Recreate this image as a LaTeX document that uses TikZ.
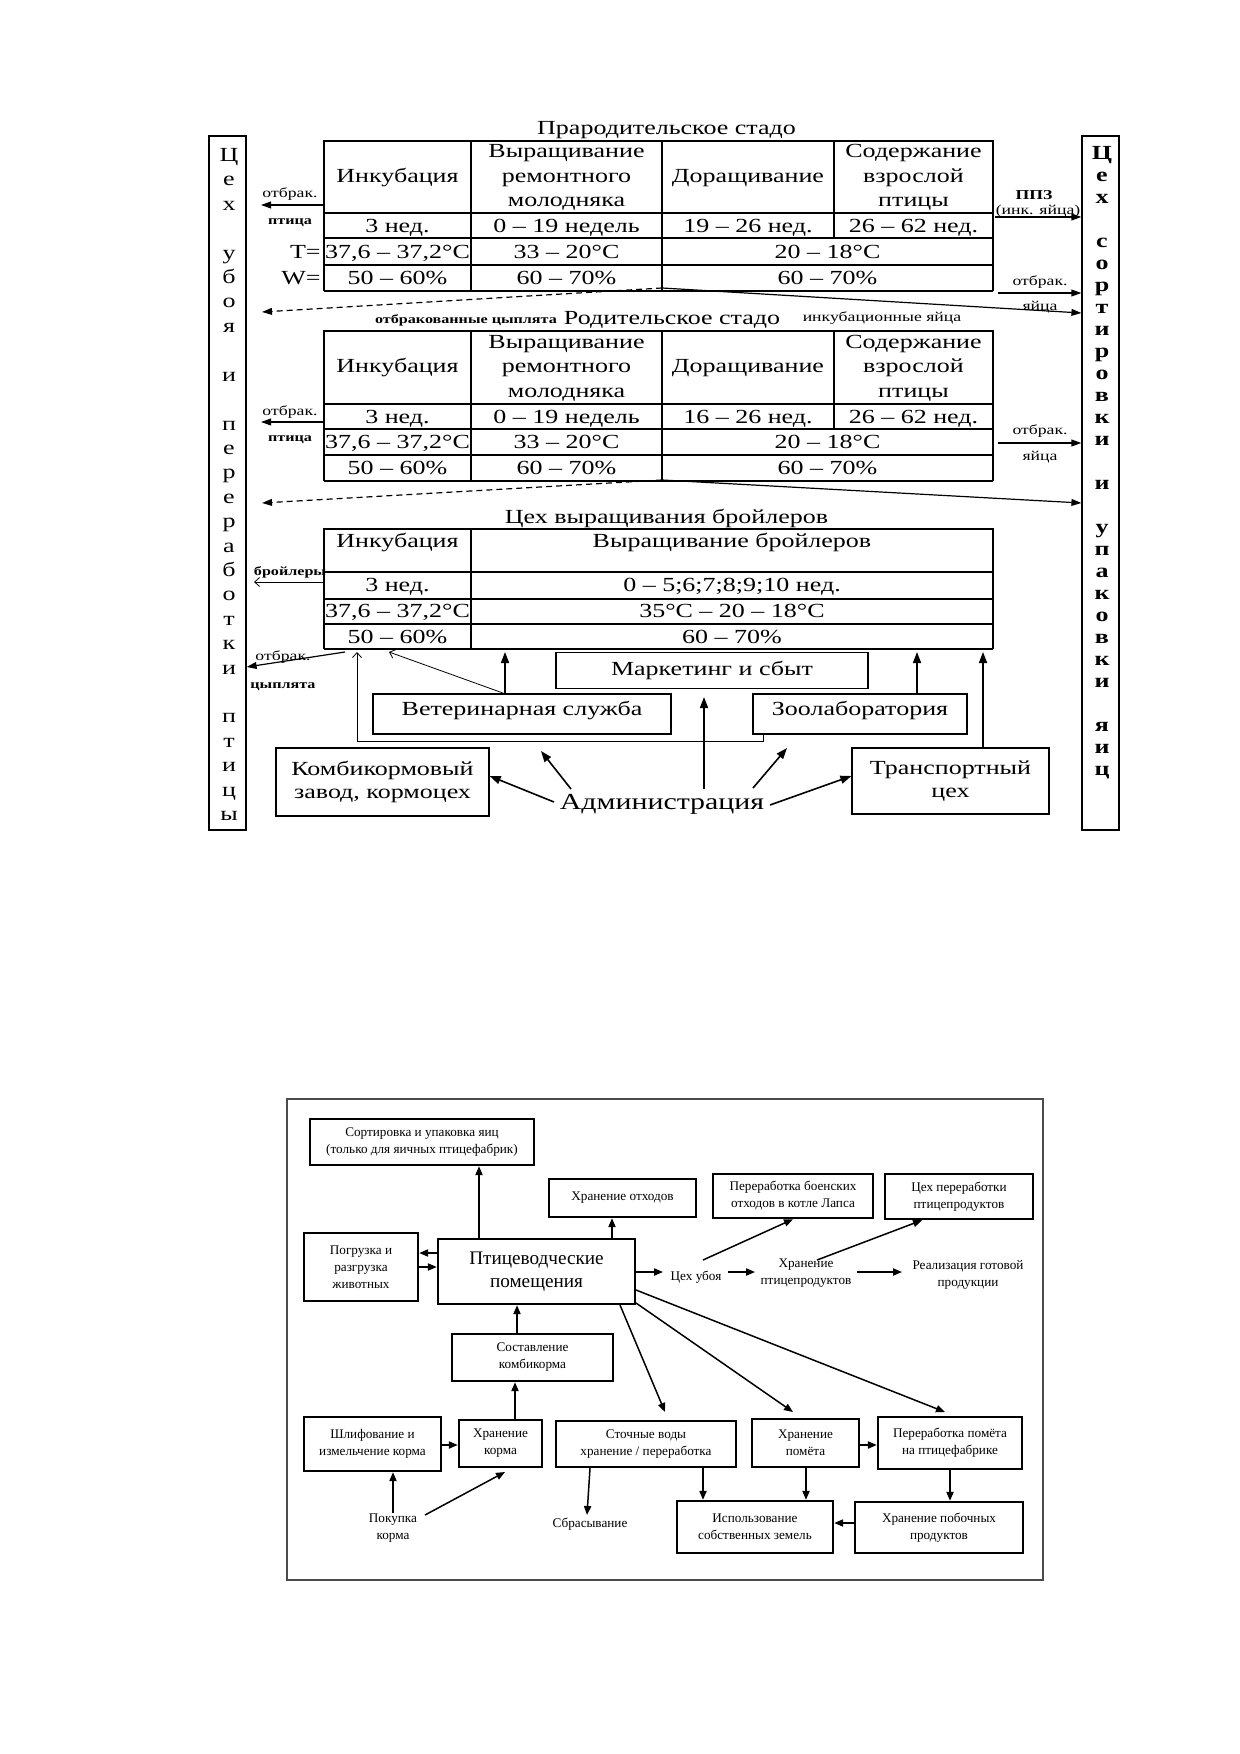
\documentclass[tikz,border=0pt]{standalone}
\usepackage{fontspec}
\setmainfont{Liberation Serif}
\newfontfamily\wf[FakeStretch=1.3]{Liberation Serif}
\usetikzlibrary{arrows.meta}
\tikzset{
  tl/.style={line width=0.6pt},
  tk/.style={line width=1.1pt},
  wt/.style={inner sep=0pt, text height=0.66em, text depth=0pt, font=\wf\fontsize{10}{12}\selectfont},
  wtb/.style={wt, font=\wf\bfseries\fontsize{10}{12}\selectfont},
  ws/.style={inner sep=0pt, text height=0.66em, text depth=0pt, font=\wf\fontsize{6.8}{8}\selectfont},
  wsb/.style={ws, font=\wf\bfseries\fontsize{6.8}{8}\selectfont},
  wsbs/.style={ws, font=\wf\bfseries\fontsize{6.2}{8}\selectfont},
  arr/.style={line width=0.6pt, -{Triangle[length=5pt,width=3.4pt]}},
  arr2/.style={line width=0.8pt, -{Triangle[length=5.5pt,width=4pt]}},
  oarr/.style={line width=0.4pt, -{Straight Barb[length=2.5pt,width=4.5pt]}},
  sbox/.style={draw, line width=0.6pt, inner sep=0pt},
  tbox/.style={draw, line width=0.6pt, inner sep=0pt, align=center, font=\wf\fontsize{10}{11.5}\selectfont},
  bbox/.style={draw, line width=1.2pt, inner sep=0pt, align=center, font=\fontsize{6.6}{8.5}\selectfont},
  btxt/.style={inner sep=0pt, align=center, font=\fontsize{6.6}{8.5}\selectfont},
  barr/.style={line width=0.75pt, -{Triangle[length=4.5pt,width=3.6pt]}},
}
\begin{document}
\begin{tikzpicture}[x=0.5pt,y=-0.5pt]
\useasboundingbox[fill=white] (0,0) rectangle (1240,1754);

% ---------- side boxes ----------
\node[sbox, minimum width=18.5pt, minimum height=347pt] (LB) at (227.5,483) {};
\node[sbox, minimum width=18.5pt, minimum height=347pt] (RB) at (1100.5,483) {};
\foreach \s/\l [count=\k] in {0/Ц,1/е,2/х,4/у,5/б,6/о,7/я,9/и,11/п,12/е,13/р,14/е,15/р,16/а,17/б,18/о,19/т,20/к,21/и,23/п,24/т,25/и,26/ц,27/ы}
  \node[wt] (lb\k) at (229,{155+24.4*\s}) {\l};
\foreach \s/\l [count=\k] in {0/Ц,1/е,2/х,4/с,5/о,6/р,7/т,8/и,9/р,10/о,11/в,12/к,13/и,15/и,17/у,18/п,19/а,20/к,21/о,22/в,23/к,24/и,26/я,27/и,28/ц}
  \node[wtb] (rb\k) at (1102,{153+22*\s}) {\l};

% ---------- titles ----------
\node[wt] (t1) at (666.5,128) {Прародительское стадо};
\node[wt] (t2) at (672,318) {Родительское стадо};
\node[wt] (t3) at (666.5,517) {Цех выращивания бройлеров};

% ---------- table 1 ----------
\draw[tl] (324,291) -- (324,141) -- (993,141) -- (993,291);
\draw[tk] (324,291) -- (993,291);
\draw[tl] (324,213) -- (993,213);
\draw[tk] (324,238) -- (993,238);
\draw[tk] (324,265) -- (993,265);
\draw[tl] (471,141) -- (471,291);
\draw[tl] (662,141) -- (662,291);
\draw[tl] (834,141) -- (834,238);
\node[wt] (a1) at (397.5,176) {Инкубация};
\node[wt] (a2a) at (566.5,151) {Выращивание};
\node[wt] (a2b) at (566.5,176) {ремонтного};
\node[wt] (a2c) at (566.5,200) {молодняка};
\node[wt] (a3) at (748,176) {Доращивание};
\node[wt] (a4a) at (913.5,151) {Содержание};
\node[wt] (a4b) at (913.5,176) {взрослой};
\node[wt] (a4c) at (913.5,200) {птицы};
\node[wt] (a5) at (397.5,225.5) {3 нед.};
\node[wt] (a6) at (566.5,225.5) {0 – 19 недель};
\node[wt] (a7) at (748,225.5) {19 – 26 нед.};
\node[wt] (a8) at (913.5,225.5) {26 – 62 нед.};
\node[wt] (a9) at (397.5,252) {37,6 – 37,2°C};
\node[wt] (a10) at (566.5,252) {33 – 20°C};
\node[wt] (a11) at (827.5,252) {20 – 18°C};
\node[wt] (a12) at (397.5,278) {50 – 60\%};
\node[wt] (a13) at (566.5,278) {60 – 70\%};
\node[wt] (a14) at (827.5,278) {60 – 70\%};
\node[wt, anchor=east] (tT) at (321,252) {T=};
\node[wt, anchor=east] (tW) at (321,278) {W=};

% ---------- table 2 ----------
\draw[tl] (324,481) -- (324,331) -- (993,331) -- (993,481);
\draw[tk] (324,481) -- (993,481);
\draw[tl] (324,404) -- (993,404);
\draw[tk] (324,429) -- (993,429);
\draw[tl] (324,455) -- (993,455);
\draw[tl] (471,331) -- (471,481);
\draw[tl] (662,331) -- (662,481);
\draw[tl] (834,331) -- (834,429);
\node[wt] (b1) at (397.5,366) {Инкубация};
\node[wt] (b2a) at (566.5,342) {Выращивание};
\node[wt] (b2b) at (566.5,366) {ремонтного};
\node[wt] (b2c) at (566.5,391) {молодняка};
\node[wt] (b3) at (748,366) {Доращивание};
\node[wt] (b4a) at (913.5,342) {Содержание};
\node[wt] (b4b) at (913.5,366) {взрослой};
\node[wt] (b4c) at (913.5,391) {птицы};
\node[wt] (b5) at (397.5,416.5) {3 нед.};
\node[wt] (b6) at (566.5,416.5) {0 – 19 недель};
\node[wt] (b7) at (748,416.5) {16 – 26 нед.};
\node[wt] (b8) at (913.5,416.5) {26 – 62 нед.};
\node[wt] (b9) at (397.5,442) {37,6 – 37,2°C};
\node[wt] (b10) at (566.5,442) {33 – 20°C};
\node[wt] (b11) at (827.5,442) {20 – 18°C};
\node[wt] (b12) at (397.5,468) {50 – 60\%};
\node[wt] (b13) at (566.5,468) {60 – 70\%};
\node[wt] (b14) at (827.5,468) {60 – 70\%};

% ---------- table 3 ----------
\draw[tl] (324,649) -- (324,529) -- (993,529) -- (993,649);
\draw[tk] (324,649) -- (993,649);
\draw[tk] (324,572) -- (993,572);
\draw[tk] (324,599) -- (993,599);
\draw[tk] (324,624) -- (993,624);
\draw[tl] (471,529) -- (471,649);
\node[wt] (c1) at (397.5,541) {Инкубация};
\node[wt] (c2) at (732,541) {Выращивание бройлеров};
\node[wt] (c3) at (397.5,585) {3 нед.};
\node[wt] (c4) at (732,585) {0 – 5;6;7;8;9;10 нед.};
\node[wt] (c5) at (397.5,611) {37,6 – 37,2°C};
\node[wt] (c6) at (732,611) {35°C – 20 – 18°C};
\node[wt] (c7) at (397.5,637) {50 – 60\%};
\node[wt] (c8) at (732,637) {60 – 70\%};

% ---------- side arrows and labels ----------
\node[ws] (ob1) at (290,191) {отбрак.};
\node[wsbs] (pt1) at (290,218) {птица};
\coordinate (t1l) at (323,205);
\coordinate (l1) at (261,205);
\draw[arr] (t1l) -- (l1);

\node[wsb] (ppz) at (1034,193) {ППЗ};
\node[ws] (ink) at (1038,208) {(инк. яйца)};
\coordinate (t1r) at (995,217);
\draw[arr] (t1r) -- (RB.west |- t1r);
\node[ws] (ob2) at (1040,279) {отбрак.};
\node[ws] (ya2) at (1040,304) {яйца};
\coordinate (t1r2) at (998,293);
\draw[arr] (t1r2) -- (RB.west |- t1r2);

\coordinate (j1) at (662,288);
\coordinate (d1) at (262,312);
\draw[arr, dashed, dash pattern=on 3pt off 2pt] (j1) -- (d1);
\draw[arr] (j1) -- (RB.west |- 0,313);
\node[wsbs] (oc) at (466,317) {отбракованные цыплята};
\node[ws] (iy) at (882,315) {инкубационные яйца};

\node[ws] (ob3) at (290,409) {отбрак.};
\node[wsbs] (pt3) at (290,435) {птица};
\coordinate (t2l) at (323,422);
\coordinate (l2) at (261,422);
\draw[arr] (t2l) -- (l2);
\node[ws] (ob4) at (1040,428) {отбрак.};
\node[ws] (ya4) at (1040,454) {яйца};
\coordinate (t2r) at (998,443);
\draw[arr] (t2r) -- (RB.west |- t2r);

\coordinate (j2) at (662,480);
\coordinate (d2) at (262,503);
\draw[arr, dashed, dash pattern=on 3pt off 2pt] (j2) -- (d2);
\draw[arr] (j2) -- (RB.west |- 0,503);

\node[wsbs] (br) at (290,569) {бройлеры};
\coordinate (t3l) at (323,582);
\coordinate (l3) at (254,582);
\draw[oarr] (t3l) -- (l3);
\node[ws] (ob5) at (283,654) {отбрак.};
\node[wsbs] (cy5) at (283,682) {цыплята};
\coordinate (t3l2) at (345,652);
\draw[arr] (t3l2) -- (LB.east |- 0,667);

% ---------- service boxes ----------
\node[tbox, minimum width=156pt, minimum height=18pt, text height=0.66em, text depth=1.5pt] (mk) at (712,670.5) {Маркетинг и сбыт};
\node[tbox, minimum width=149pt, minimum height=20pt, text height=0.66em, text depth=5pt] (vet) at (522,714) {Ветеринарная служба};
\node[tbox, minimum width=107pt, minimum height=20pt, text height=0.66em, text depth=5pt] (zoo) at (860,714) {Зоолаборатория};
\node[tbox, minimum width=106.5pt, minimum height=34pt] (komb) at (382.5,782) {Комбикормовый\\завод, кормоцех};
\node[tbox, minimum width=98.5pt, minimum height=33pt] (trans) at (950.5,781) {Транспортный\\цех};
\node[inner sep=0pt, text height=0.66em, text depth=0pt, font=\wf\fontsize{11.5}{13}\selectfont] (adm) at (662,803) {Администрация};

\coordinate (tb1) at (357,652);
\draw[oarr] (zoo.south -| 763,0) -- (763,741) -- (357,741) -- (tb1);
\coordinate (tb2) at (389,652);
\draw[oarr] (vet.north -| 504,0) -- (tb2);
\coordinate (tb3) at (505,652);
\draw[arr2] (vet.north -| 505,0) -- (tb3);
\coordinate (tb4) at (917,652);
\draw[arr2] (zoo.north -| 917,0) -- (tb4);
\coordinate (tb5) at (983,652);
\draw[arr2] (trans.north -| 983,0) -- (tb5);

\coordinate (ad1) at (554,802);
\draw[arr2] (ad1) -- (komb.east |- 0,776);
\coordinate (ad2) at (571,789);
\coordinate (ad2e) at (541,751);
\draw[arr2] (ad2) -- (ad2e);
\coordinate (ad3) at (704,789);
\coordinate (ad3e) at (704,697);
\draw[arr2] (ad3) -- (ad3e);
\coordinate (ad4) at (753,788);
\coordinate (ad4e) at (787,748);
\draw[arr2] (ad4) -- (ad4e);
\coordinate (ad5) at (770,805);
\draw[arr2] (ad5) -- (trans.west |- 0,776);

% ================= bottom diagram =================
\draw[black!70, line width=0.8pt] (287,1099) rectangle (1043,1580);

\node[bbox, minimum width=112pt, minimum height=23pt] (sort) at (422,1142) {Сортировка и упаковка яиц\\(только для яичных птицефабрик)};
\node[bbox, minimum width=73.5pt, minimum height=19pt] (otx) at (622.5,1198) {Хранение отходов};
\node[bbox, minimum width=80pt, minimum height=22pt] (boen) at (793,1196) {Переработка боенских\\отходов в котле Лапса};
\node[bbox, minimum width=74pt, minimum height=22.5pt] (cehp) at (959,1196.5) {Цех переработки\\птицепродуктов};
\node[bbox, minimum width=57pt, minimum height=34pt] (pogr) at (361,1267) {Погрузка и\\разгрузка\\животных};
\node[bbox, minimum width=98.5pt, minimum height=32.5pt, font=\fontsize{9.6}{11.5}\selectfont] (ptic) at (536.5,1271.5) {Птицеводческие\\помещения};
\node[bbox, minimum width=80.5pt, minimum height=23.5pt] (sost) at (532.5,1357.5) {Составление\\комбикорма};
\node[bbox, minimum width=68.5pt, minimum height=27pt] (shl) at (372.5,1444) {Шлифование и\\измельчение корма};
\node[bbox, minimum width=41.5pt, minimum height=23.5pt] (hkorm) at (500.5,1443.5) {Хранение\\корма};
\node[bbox, minimum width=90pt, minimum height=23pt] (stoch) at (646,1444) {Сточные воды\\хранение / переработка};
\node[bbox, minimum width=53.5pt, minimum height=24pt] (hpom) at (805.5,1443) {Хранение\\помёта};
\node[bbox, minimum width=72pt, minimum height=26pt] (ppom) at (950,1443) {Переработка помёта\\на птицефабрике};
\node[bbox, minimum width=78pt, minimum height=26pt] (isp) at (755,1527) {Использование\\собственных земель};
\node[bbox, minimum width=84pt, minimum height=25.5pt] (hpob) at (939,1527.5) {Хранение побочных\\продуктов};

\node[btxt] (ubo) at (696,1277) {Цех убоя};
\node[btxt] (hpp) at (806,1273) {Хранение\\птицепродуктов};
\node[btxt] (real) at (968,1275) {Реализация готовой\\продукции};
\node[btxt] (pok) at (393,1528) {Покупка\\корма};
\node[btxt] (sbr) at (590,1524) {Сбрасывание};

\draw[barr] (ptic.north -| 479,0) -- (sort.south -| 479,0);
\draw[barr] (ptic.north -| 612,0) -- (otx.south -| 612,0);
\draw[barr] (ptic.west |- 0,1253) -- (pogr.east |- 0,1253);
\draw[barr] (pogr.east |- 0,1267) -- (ptic.west |- 0,1267);
\coordinate (ubin) at (663,1272);
\draw[barr] (ptic.east |- 0,1272) -- (ubin);
\coordinate (ubout) at (728,1272);
\coordinate (hppin) at (755,1272);
\draw[barr] (ubout) -- (hppin);
\coordinate (ubup) at (703,1260);
\draw[barr] (ubup) -- (boen.south);
\coordinate (hppup) at (817,1260);
\draw[barr] (hppup) -- (cehp.south -| 922,0);
\coordinate (hppout) at (857,1272);
\coordinate (realin) at (902,1272);
\draw[barr] (hppout) -- (realin);
\coordinate (p1) at (620,1305);
\coordinate (p1e) at (665,1412);
\draw[barr] (p1) -- (p1e);
\coordinate (p2) at (636,1303);
\coordinate (p2e) at (793,1412);
\draw[barr] (p2) -- (p2e);
\coordinate (p3) at (636,1290);
\coordinate (p3e) at (945,1412);
\draw[barr] (p3) -- (p3e);
\draw[barr] (sost.north -| 517,0) -- (ptic.south -| 517,0);
\draw[barr] (hkorm.north -| 515,0) -- (sost.south -| 515,0);
\draw[barr] (shl.east |- 0,1445) -- (hkorm.west |- 0,1445);
\coordinate (pokup) at (393,1513);
\draw[barr] (pokup) -- (shl.south -| 393,0);
\coordinate (pokr) at (425,1515);
\coordinate (pokre) at (505,1472);
\draw[barr] (pokr) -- (pokre);
\coordinate (sbre) at (587,1515);
\draw[barr] (stoch.south -| 590,0) -- (sbre);
\draw[barr] (stoch.south -| 703,0) -- (isp.north -| 703,0);
\draw[barr] (hpom.south -| 806,0) -- (isp.north -| 806,0);
\draw[barr] (hpom.east |- 0,1445) -- (ppom.west |- 0,1445);
\draw[barr] (ppom.south -| 950,0) -- (hpob.north -| 950,0);
\draw[barr] (hpob.west |- 0,1523) -- (isp.east |- 0,1523);
\end{tikzpicture}
\end{document}
